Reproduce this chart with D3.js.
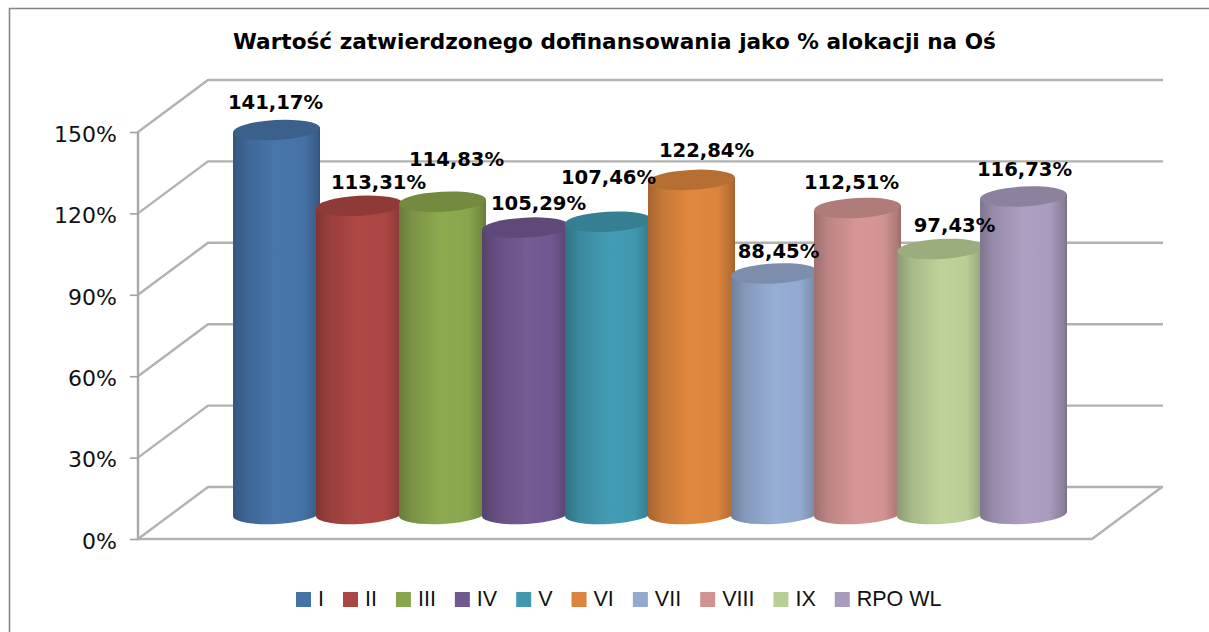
<!DOCTYPE html>
<html><head><meta charset="utf-8">
<script src="https://cdn.jsdelivr.net/npm/d3@7"></script>
<style>html,body{margin:0;padding:0;background:#fff;overflow:hidden}svg{display:block}</style>
</head><body><svg id="c" width="1209" height="632"></svg>
<script>
const categories=["I","II","III","IV","V","VI","VII","VIII","IX","RPO WL"];
const values=[141.17,113.31,114.83,105.29,107.46,122.84,88.45,112.51,97.43,116.73];
const valueLabels=["141,17%","113,31%","114,83%","105,29%","107,46%","122,84%","88,45%","112,51%","97,43%","116,73%"];
const colors=["#4573a7","#aa4643","#89a54e","#71588f","#4198af","#db843d","#93a9cf","#d19392","#b9cd96","#a99bbd"];
const yTicks=[0,30,60,90,120,150];
const labelDx=[-1,19,14,13,0,15,4,-6,14,1];
const labelDy=[-28,-24,-43,-25,-45,-30,-22,-26,-24,-27];

const svg=d3.select("#c");
const defs=svg.append("defs");
const VERD="'DejaVu Sans',Verdana,sans-serif";
svg.append("path").attr("d","M1209,8.5H9.5V632").attr("fill","none").attr("stroke","#858585").attr("stroke-width",1.6);

const blur=defs.append("filter").attr("id","soft").attr("x","-5%").attr("y","-5%").attr("width","110%").attr("height","110%");
blur.append("feGaussianBlur").attr("stdDeviation",0.6);

svg.append("text").attr("x",614.5).attr("y",49).attr("text-anchor","middle")
  .attr("font-family",VERD).attr("font-weight","bold").attr("font-size",21.6).attr("fill","#000")
  .text("Wartość zatwierdzonego dofinansowania jako % alokacji na Oś");

const front=d3.scaleLinear().domain([0,150]).range([539,132]);
const depthX=70, depthY=-52, frontL=138, frontR=1092;
const grid=svg.append("g").attr("fill","none").attr("stroke","#b2b2b2").attr("stroke-width",2.4).attr("filter","url(#soft)");
yTicks.forEach(t=>{
  const y=front(t);
  grid.append("path").attr("d",`M${frontL},${y}L${frontL+depthX},${y+depthY}H${frontR+depthX+1}`);
});
grid.append("path").attr("d",`M${frontL},${front(0)}H${frontR}L${frontR+depthX},${front(0)+depthY}`);

const axis=d3.axisLeft(front).tickValues(yTicks).tickSize(8).tickPadding(13).tickFormat(d=>d+"%");
const ag=svg.append("g").attr("transform",`translate(${frontL},0)`).call(axis);
ag.select(".domain").attr("stroke","#a8a8a8").attr("stroke-width",2.4).attr("d",`M0,${front(150)}V${front(0)}`);
ag.selectAll(".tick line").attr("stroke","#a0a0a0").attr("stroke-width",1.6);
ag.selectAll(".tick text").attr("font-family",VERD).attr("font-size",22).attr("fill","#111").attr("dy","0.42em");

const x=d3.scalePoint().domain(categories).range([276.5,1023.5]);
const barY=d3.scaleLinear().domain([0,150]).range([514,514-150*2.72]);
const rx=43.5, ry=10, tilt=2.4;

const cylinders=svg.append("g").attr("filter","url(#soft)");
categories.forEach((c,i)=>{
  const col=d3.color(colors[i]);
  const g=defs.append("linearGradient").attr("id","g"+i);
  [[0,col.darker(0.8)],[0.16,col.darker(0.3)],[0.5,col.brighter(0.08)],[0.8,col],[0.96,col.darker(0.55)],[1,col.darker(0.9)]]
    .forEach(s=>g.append("stop").attr("offset",s[0]).attr("stop-color",s[1]));
  const cx=x(c), top=barY(values[i]), bot=barY(0);
  cylinders.append("path")
    .attr("d",`M${cx-rx},${top+tilt}L${cx-rx},${bot+tilt}A${rx},${ry} -3 0 0 ${cx+rx},${bot-tilt}L${cx+rx},${top-tilt}Z`)
    .attr("fill",`url(#g${i})`);
  cylinders.append("path")
    .attr("d",`M${cx-rx},${top+tilt}A${rx},${ry} -3 0 1 ${cx+rx},${top-tilt}A${rx},${ry} -3 0 1 ${cx-rx},${top+tilt}Z`)
    .attr("fill",col.darker(0.5));
});

svg.append("g").selectAll("text").data(categories).join("text")
  .attr("x",(c,i)=>x(c)+labelDx[i])
  .attr("y",(c,i)=>barY(values[i])+labelDy[i]+7)
  .attr("text-anchor","middle").attr("font-family",VERD).attr("font-weight","bold")
  .attr("font-size",19.6).attr("fill","#000").text((c,i)=>valueLabels[i]);

let lx=296;
const leg=svg.append("g");
categories.forEach((c,i)=>{
  leg.append("rect").attr("x",lx).attr("y",592).attr("width",15).attr("height",15).attr("fill",colors[i]);
  const t=leg.append("text").attr("x",lx+22).attr("y",606).attr("font-family","'Liberation Sans',Arial,sans-serif")
    .attr("font-size",21.5).attr("fill","#111").text(c);
  lx+=22+t.node().getComputedTextLength()+19;
});
</script></body></html>
